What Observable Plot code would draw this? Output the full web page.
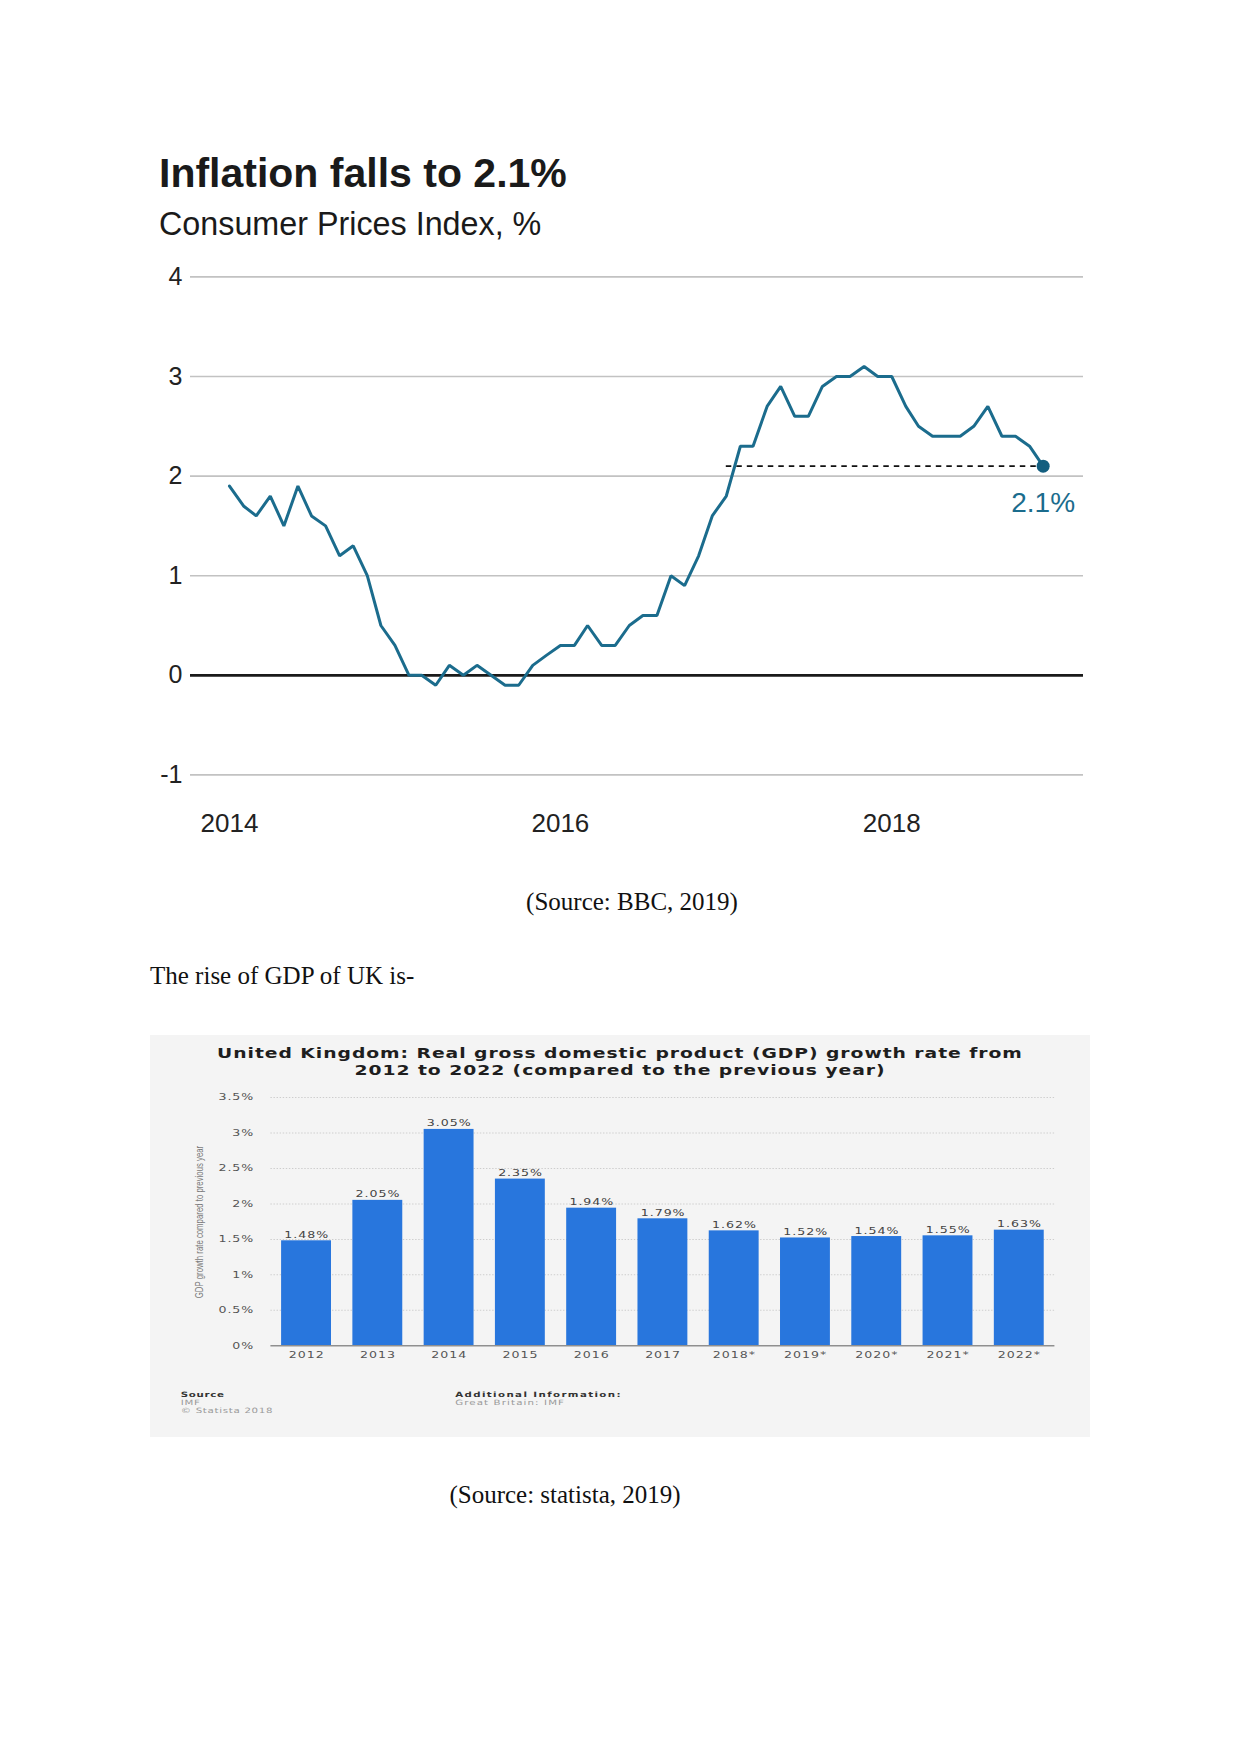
<!DOCTYPE html>
<html><head><meta charset="utf-8">
<script src="https://cdn.jsdelivr.net/npm/d3@7"></script>
<script src="https://cdn.jsdelivr.net/npm/@observablehq/plot@0.6"></script>
<style>
html,body{margin:0;padding:0;background:#fff}
body{width:1241px;height:1754px;position:relative;overflow:hidden}
.t{position:absolute;white-space:nowrap;line-height:1}
#cpi{position:absolute;left:0;top:240px}
#gdpBox{position:absolute;left:150px;top:1035px;width:940px;height:402px;background:#f4f4f4;overflow:hidden}
#gdpInner{position:absolute;left:0;top:0;width:671.43px;height:402px;transform:scaleX(1.4);transform-origin:0 0}
#gdpSvg{position:absolute;left:0;top:0}
</style></head><body>
<script>
// ---------- DATA ----------
// UK CPI, monthly, Jan 2014 .. Dec 2018 (%)
const cpiFirstMonth = "2014-01";
const cpiValues = [
  1.9, 1.7, 1.6, 1.8, 1.5, 1.9, 1.6, 1.5, 1.2, 1.3, 1.0, 0.5,
  0.3, 0.0, 0.0, -0.1, 0.1, 0.0, 0.1, 0.0, -0.1, -0.1, 0.1, 0.2,
  0.3, 0.3, 0.5, 0.3, 0.3, 0.5, 0.6, 0.6, 1.0, 0.9, 1.2, 1.6,
  1.8, 2.3, 2.3, 2.7, 2.9, 2.6, 2.6, 2.9, 3.0, 3.0, 3.1, 3.0,
  3.0, 2.7, 2.5, 2.4, 2.4, 2.4, 2.5, 2.7, 2.4, 2.4, 2.3, 2.1
];
const cpiYTicks = [-1, 0, 1, 2, 3, 4];
const cpiXTickYears = [2014, 2016, 2018];
const cpiRefLineStart = "2017-01";
const cpiDomain = ["2013-10-07", "2019-02-28"];

// UK real GDP growth (%), statista
const gdpYears = ["2012", "2013", "2014", "2015", "2016", "2017", "2018*", "2019*", "2020*", "2021*", "2022*"];
const gdpValues = [1.48, 2.05, 3.05, 2.35, 1.94, 1.79, 1.62, 1.52, 1.54, 1.55, 1.63];
const gdpYTicks = [0, 0.5, 1, 1.5, 2, 2.5, 3, 3.5];

// ---------- helpers ----------
function txt(parent, s, o) {
  const d = document.createElement("div");
  d.className = "t";
  d.textContent = s;
  const size = o.size;
  d.style.fontSize = size + "px";
  d.style.fontFamily = o.family || "'Liberation Sans', Arial, sans-serif";
  d.style.fontWeight = o.weight || "normal";
  d.style.color = o.color || "#000";
  if (o.ls) d.style.letterSpacing = o.ls + "px";
  d.style.top = (o.baseline - (o.r || 0.85) * size) + "px";
  d.style.left = o.x + "px";
  if (o.anchor === "middle") d.style.transform = "translateX(-50%)";
  parent.appendChild(d);
  return d;
}
const parseMonth = d3.utcParse("%Y-%m");
const parseDay = d3.utcParse("%Y-%m-%d");

// ---------- Chart 1 : CPI ----------
const body = document.body;
txt(body, "Inflation falls to 2.1%", {x: 159, baseline: 188, size: 41, weight: "bold", color: "#1a1a1a"});
txt(body, "Consumer Prices Index, %", {x: 159, baseline: 235, size: 32.3, color: "#1a1a1a"});

const start = parseMonth(cpiFirstMonth);
const cpi = cpiValues.map((v, i) => ({date: d3.utcMonth.offset(start, i), value: v}));
const latest = cpi[cpi.length - 1];
const refLine = [{x1: parseMonth(cpiRefLineStart), x2: latest.date, y: latest.value}];
const yearDates = cpiXTickYears.map(y => new Date(Date.UTC(y, 0, 1)));
const lineColor = "#1b6c8d";

const chart1 = Plot.plot({
  width: 1241,
  height: 620,
  marginLeft: 190,
  marginRight: 158,
  marginTop: 36.4,
  marginBottom: 85.6,
  style: {fontFamily: "'Liberation Sans', Arial, sans-serif", background: "transparent", overflow: "visible"},
  x: {type: "utc", domain: cpiDomain.map(parseDay)},
  y: {domain: [-1, 4]},
  marks: [
    Plot.ruleY(cpiYTicks.filter(v => v !== 0), {stroke: "#c2c2c2", strokeWidth: 1.6}),
    Plot.ruleY([0], {stroke: "#1a1a1a", strokeWidth: 2.8}),
    Plot.ruleY(refLine, {x1: "x1", x2: "x2", y: "y", stroke: "#111", strokeWidth: 1.7, strokeDasharray: "5.5,5"}),
    Plot.lineY(cpi, {x: "date", y: "value", stroke: lineColor, strokeWidth: 3, strokeLinejoin: "miter"}),
    Plot.dot([latest], {x: "date", y: "value", r: 6.5, fill: "#135e7f"}),
    Plot.text([latest], {x: "date", y: "value", text: d => d.value + "%", dy: 37, fontSize: 28, fill: lineColor}),
    Plot.axisY({ticks: cpiYTicks, tickSize: 0, tickPadding: 8, fontSize: 25, color: "#222", tickFormat: d => String(d), label: null}),
    Plot.axisX({ticks: yearDates, tickSize: 0, tickPadding: 39, fontSize: 26, color: "#222", tickFormat: d => String(d.getUTCFullYear()), label: null})
  ]
});
chart1.id = "cpi";
body.appendChild(chart1);

txt(body, "(Source: BBC, 2019)", {x: 632, baseline: 910, size: 25, anchor: "middle", family: "'Liberation Serif', 'Times New Roman', serif", color: "#111"});
txt(body, "The rise of GDP of UK is-", {x: 150, baseline: 984, size: 25, family: "'Liberation Serif', 'Times New Roman', serif", color: "#111"});

// ---------- Chart 2 : GDP (statista) ----------
const box = document.createElement("div"); box.id = "gdpBox"; body.appendChild(box);
const inner = document.createElement("div"); inner.id = "gdpInner"; box.appendChild(inner);
const sans = "'DejaVu Sans', Verdana, sans-serif";

const gdp = gdpYears.map((y, i) => ({year: y, value: gdpValues[i]}));
const chart2 = Plot.plot({
  width: 671.43,
  height: 402,
  marginLeft: 86,
  marginRight: 25.4,
  marginTop: 62,
  marginBottom: 91.7,
  style: {fontFamily: sans, background: "transparent", overflow: "visible", letterSpacing: "0.7px"},
  x: {domain: gdpYears, paddingInner: 0.3, paddingOuter: 0.15, round: false, label: null},
  y: {domain: [0, 3.5], label: null},
  marks: [
    Plot.ruleY(gdpYTicks.filter(v => v !== 0), {stroke: "#cdcdcd", strokeWidth: 1, strokeDasharray: "1,1.2"}),
    Plot.barY(gdp, {x: "year", y: "value", fill: "#2876dd"}),
    Plot.ruleY([0], {stroke: "#8f8f8f", strokeWidth: 1.6}),
    Plot.text(gdp, {x: "year", y: "value", text: d => d.value.toFixed(2) + "%", lineAnchor: "bottom", dy: -3, fontSize: 9, fill: "#444"}),
    Plot.axisY({ticks: gdpYTicks, tickSize: 0, tickPadding: 12, fontSize: 9, color: "#555", tickFormat: d => d + "%", label: null}),
    Plot.axisX({tickSize: 0, tickPadding: 6, fontSize: 9, color: "#555", label: null})
  ]
});
chart2.id = "gdpSvg";
inner.appendChild(chart2);

txt(inner, "United Kingdom: Real gross domestic product (GDP) growth rate from", {x: 335.7, baseline: 23.5, size: 13.4, weight: "bold", family: sans, color: "#1e1e1e", anchor: "middle", ls: 0.68});
txt(inner, "2012 to 2022 (compared to the previous year)", {x: 335.7, baseline: 40.5, size: 13.4, weight: "bold", family: sans, color: "#1e1e1e", anchor: "middle", ls: 0.68});

const yt = document.createElement("div");
yt.className = "t";
yt.textContent = "GDP growth rate compared to previous year";
Object.assign(yt.style, {left: "35.7px", top: "187px", fontSize: "7.8px", color: "#7a7a7a",
  fontFamily: "'Liberation Sans', Arial, sans-serif", transform: "translate(-50%,-50%) rotate(-90deg)"});
inner.appendChild(yt);

txt(inner, "Source", {x: 22, baseline: 362, size: 7.3, family: sans, color: "#333", weight: "bold", ls: 0.5});
txt(inner, "IMF", {x: 22, baseline: 370, size: 7.3, family: sans, color: "#9a9a9a", ls: 0.5});
txt(inner, "© Statista 2018", {x: 22, baseline: 378, size: 7.3, family: sans, color: "#9a9a9a", ls: 0.5});
txt(inner, "Additional Information:", {x: 218, baseline: 362, size: 7.3, family: sans, color: "#333", weight: "bold", ls: 1.0});
txt(inner, "Great Britain: IMF", {x: 218, baseline: 370, size: 7.3, family: sans, color: "#9a9a9a", ls: 0.8});

txt(body, "(Source: statista, 2019)", {x: 565, baseline: 1503, size: 25, anchor: "middle", family: "'Liberation Serif', 'Times New Roman', serif", color: "#111"});
</script>
</body></html>
